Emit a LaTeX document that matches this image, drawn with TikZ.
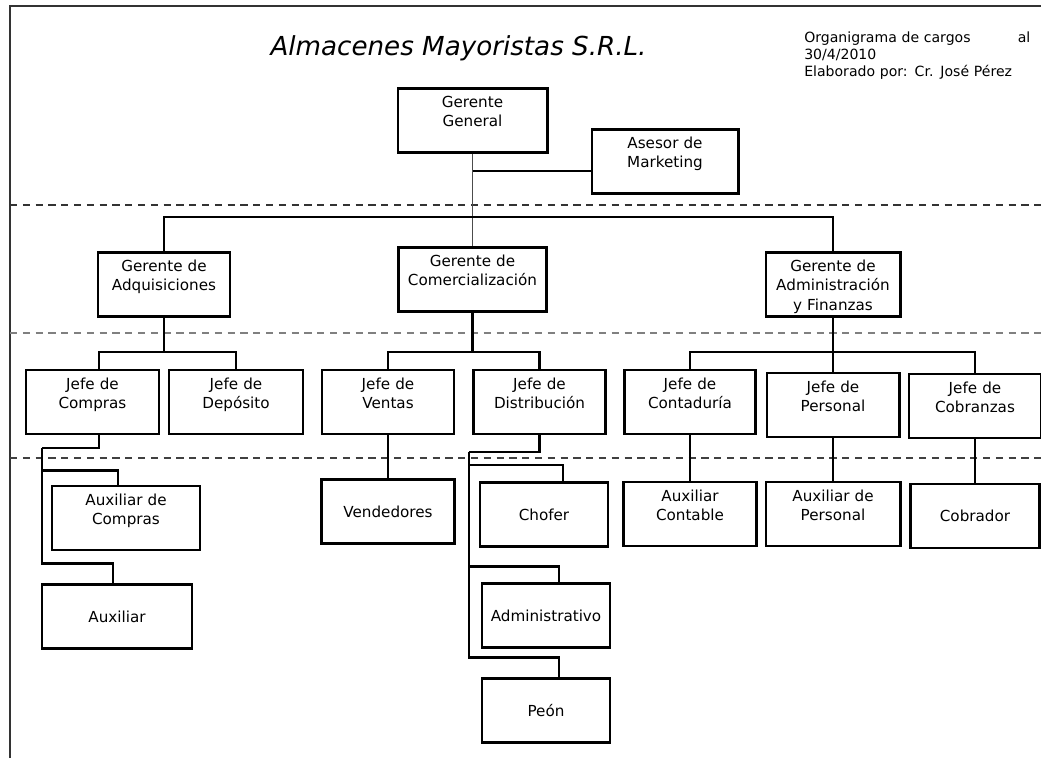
\documentclass[tikz,border=0pt]{standalone}
\usepackage{fontspec}
\setmainfont{DejaVu Sans}
\usepackage{tikz}
\tikzstyle{cargo} = [rectangle, draw=black, line width=2.1pt, text width=3.25cm, align=center, inner xsep=0pt, inner ysep=0pt, text height=0.475cm, text depth=1.125cm, font=\fontsize{10.8}{13.8}\selectfont]
\tikzstyle{cargosimple} = [rectangle, draw=black, line width=2.1pt, minimum height=1.6cm, inner sep=0pt, text centered, font=\fontsize{10.8}{13.8}\selectfont]
\tikzstyle{linea} = [line width=2.1pt]
\tikzstyle{lineafina} = [line width=0.9pt, black!70]
\tikzstyle{nivel} = [line width=1.2pt, dash pattern=on 0.18cm off 0.14cm]

\begin{document}
\begin{tikzpicture}[x=0.025cm, y=-0.025cm]

  \useasboundingbox (0,0) rectangle (1041,758);
  \draw [line width=1.3pt, black!80] (10,758) -- (10,6) -- (1041,6);
  \draw [nivel, black!80] (10,205) -- (1041,205);
  \draw [nivel, black!50] (10,333) -- (1041,333);
  \draw [nivel, black!75] (10,458) -- (1041,458);

  \node (titulo) [anchor=base, font=\fontsize{18.6}{22}\selectfont\itshape] at (458.5,55) {Almacenes Mayoristas S.R.L.};
  \node (info) [anchor=base west, text width=5.65cm, align=left, inner sep=0pt, font=\fontsize{10}{12.2}\selectfont] at (804,42) {Organigrama de cargos\hfill al\\30/4/2010\\Elaborado por: Cr. José Pérez};

  % direccion
  \node (gg) [cargo, minimum width=3.725cm] at (472.5,120.5) {Gerente\\General};
  \node (asesor) [cargo, minimum width=3.65cm] at (665,161.5) {Asesor de\\Marketing};
  \node (adq) [cargo, minimum width=3.3cm] at (164,284.5) {Gerente de\\Adquisiciones};
  \node (com) [cargo, text width=3.6cm, minimum width=3.7cm] at (472.5,279.5) {Gerente de\\Comercialización};
  \node (admfin) [cargo, minimum width=3.35cm] at (833,284.5) {Gerente de\\Administración\\y Finanzas};

  % jefes
  \node (compras) [cargo, minimum width=3.325cm] at (92.5,402) {Jefe de\\Compras};
  \node (deposito) [cargo, minimum width=3.35cm] at (236,402) {Jefe de\\Depósito};
  \node (ventas) [cargo, minimum width=3.3cm] at (388,402) {Jefe de\\Ventas};
  \node (distrib) [cargo, minimum width=3.3cm] at (539.5,402) {Jefe de\\Distribución};
  \node (contad) [cargo, minimum width=3.275cm] at (690,402) {Jefe de\\Contaduría};
  \node (personal) [cargo, minimum width=3.3cm] at (833,405) {Jefe de\\Personal};
  \node (cobranzas) [cargo, minimum width=3.3cm] at (975,406) {Jefe de\\Cobranzas};

  % auxiliares
  \node (auxcompras) [cargo, minimum width=3.7cm] at (126,518) {Auxiliar de\\Compras};
  \node (auxiliar) [cargosimple, minimum width=3.75cm] at (117,616.5) {Auxiliar};
  \node (vendedores) [cargosimple, minimum width=3.325cm] at (388,511.5) {Vendedores};
  \node (chofer) [cargosimple, minimum width=3.2cm] at (544,514.5) {Chofer};
  \node (administrativo) [cargosimple, minimum width=3.2cm] at (546,615.5) {Administrativo};
  \node (peon) [cargosimple, minimum width=3.2cm] at (546,710.5) {Peón};
  \node (auxcont) [cargo, minimum width=3.325cm] at (690,514) {Auxiliar\\Contable};
  \node (auxpers) [cargo, minimum width=3.35cm] at (833,514) {Auxiliar de\\Personal};
  \node (cobrador) [cargosimple, minimum width=3.225cm] at (975,516) {Cobrador};

  \coordinate (aseje) at (472.5,171);
  \coordinate (barra) at (472.5,217);
  \coordinate (nivel3) at (0,352);
  \coordinate (ejecompras) at (42,448);
  \coordinate (ejedistrib) at (469,452);

  \draw [lineafina] (gg.south) -- (com.north);
  \draw [linea] (aseje) -- (aseje -| asesor.west);
  \draw [linea] (adq.north) |- (barra) -| (admfin.north);

  \draw [linea] (adq.south) -- (adq.south |- nivel3);
  \draw [linea] ([xshift=0.1625cm]compras.north) |- (adq.south |- nivel3) -| (deposito.north);
  \draw [linea] (com.south) -- (com.south |- nivel3);
  \draw [linea] (ventas.north) |- (com.south |- nivel3) -| (distrib.north);
  \draw [linea] (admfin.south) -- (personal.north);
  \draw [linea] (contad.north) |- (admfin.south |- nivel3) -| (cobranzas.north);

  \draw [linea] ([xshift=0.1625cm]compras.south) |- (ejecompras);
  \draw [linea] ([xshift=-0.2cm]auxcompras.north) -- ++(0,-14) -| (ejecompras);
  \draw [linea] ([xshift=-0.1cm]auxiliar.north) -- ++(0,-20) -| (ejecompras);
  \draw [linea] (ventas.south) -- (vendedores.north);
  \draw [linea] (distrib.south) |- (ejedistrib);
  \draw [linea] ([xshift=0.475cm]chofer.north) -- ++(0,-16) -| (ejedistrib);
  \draw [linea] ([xshift=0.325cm]administrativo.north) -- ++(0,-16) -| (ejedistrib);
  \draw [linea] ([xshift=0.325cm]peon.north) -- ++(0,-20) -| (ejedistrib);
  \draw [linea] (contad.south) -- (auxcont.north);
  \draw [linea] (personal.south) -- (auxpers.north);
  \draw [linea] (cobranzas.south) -- (cobrador.north);

\end{tikzpicture}
\end{document}
